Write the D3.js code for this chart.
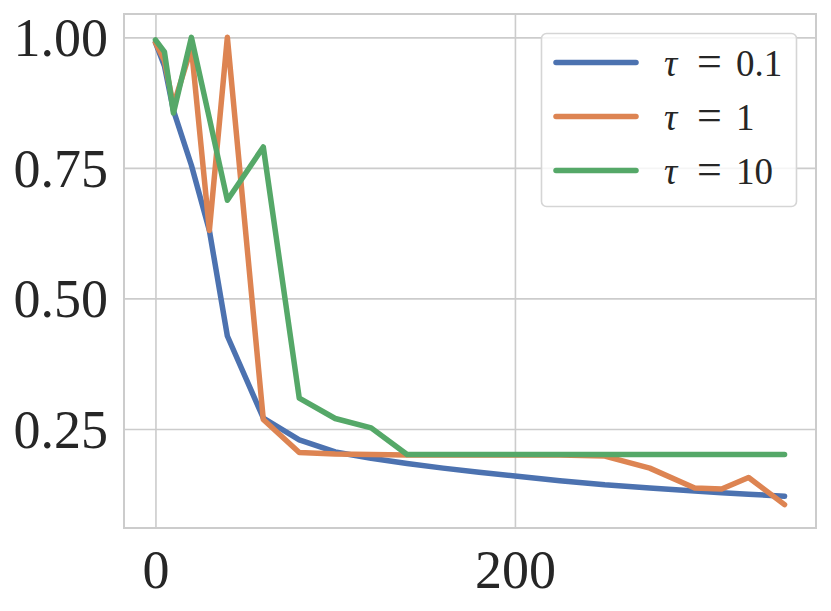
<!DOCTYPE html>
<html>
<head>
<meta charset="utf-8">
<script src="https://cdn.jsdelivr.net/npm/d3@7/dist/d3.min.js"></script>
<style>
  html, body { margin: 0; padding: 0; background: #ffffff; }
  svg { display: block; }
  text { font-family: "Liberation Serif", "DejaVu Serif", serif; fill: #262626; }
</style>
</head>
<body>
<svg id="chart" width="831" height="611"></svg>
<script>
// ---- data ----
const steps = [0, 5, 10, 20, 30, 40, 60, 80, 100, 120, 140, 160, 180, 200, 225, 250, 275, 300, 315, 330, 350];
const tau01 = [0.990, 0.945, 0.860, 0.755, 0.630, 0.428, 0.271, 0.229, 0.206, 0.194, 0.184, 0.175, 0.167, 0.160, 0.151, 0.143, 0.137, 0.131, 0.128, 0.125, 0.121];
const tau1  = [0.990, 0.955, 0.870, 0.980, 0.630, 1.000, 0.268, 0.205, 0.202, 0.201, 0.200, 0.200, 0.200, 0.200, 0.200, 0.198, 0.175, 0.137, 0.135, 0.157, 0.105];
const tau10 = [0.995, 0.972, 0.855, 1.000, 0.845, 0.688, 0.790, 0.309, 0.270, 0.252, 0.201, 0.201, 0.201, 0.201, 0.201, 0.201, 0.201, 0.201, 0.201, 0.201, 0.201];
const seriesNames = ["0.1", "1", "10"];
const seriesColors = ["#4c72b0", "#dd8452", "#55a868"];
const xTicks = [0, 200];
const yTicks = [0.25, 0.50, 0.75, 1.00];

const seriesValues = [tau01, tau1, tau10];

// ---- layout ----
const svg = d3.select("#chart");
const L = 124, R = 816, T = 14, B = 528;

const x = d3.scaleLinear().domain([-17.5, 367.5]).range([L, R]);
const y = d3.scaleLinear().domain([0.0603, 1.0447]).range([B, T]);

// grid + tick labels via axes
const yAxis = svg.append("g")
  .attr("transform", `translate(${L},0)`)
  .call(d3.axisLeft(y).tickValues(yTicks).tickFormat(d3.format(".2f")).tickSize(-(R - L)).tickPadding(16));
yAxis.select(".domain").remove();
yAxis.selectAll(".tick line").attr("stroke", "#cccccc").attr("stroke-width", 1.6);
yAxis.selectAll(".tick text")
  .attr("font-size", 54).attr("fill", "#262626")
  .attr("font-family", "Liberation Serif, DejaVu Serif, serif")
  .attr("dy", "0.34em");

const xAxis = svg.append("g")
  .attr("transform", `translate(0,${B})`)
  .call(d3.axisBottom(x).tickValues(xTicks).tickFormat(d3.format("d")).tickSize(-(B - T)).tickPadding(22));
xAxis.select(".domain").remove();
xAxis.selectAll(".tick line").attr("stroke", "#cccccc").attr("stroke-width", 1.6);
xAxis.selectAll(".tick text")
  .attr("font-size", 54).attr("fill", "#262626")
  .attr("font-family", "Liberation Serif, DejaVu Serif, serif")
  .attr("dy", "0.71em");

// lines
const line = d3.line()
  .x((d, i) => x(steps[i]))
  .y(d => y(d));

svg.append("g").selectAll("path")
  .data(seriesValues)
  .join("path")
  .attr("d", d => line(d))
  .attr("fill", "none")
  .attr("stroke", (d, i) => seriesColors[i])
  .attr("stroke-width", 5.5)
  .attr("stroke-linecap", "round")
  .attr("stroke-linejoin", "round");

// spines
svg.append("rect")
  .attr("x", L).attr("y", T).attr("width", R - L).attr("height", B - T)
  .attr("fill", "none").attr("stroke", "#cccccc").attr("stroke-width", 2);

// legend
const lg = svg.append("g");
lg.append("rect")
  .attr("x", 541.5).attr("y", 33.5).attr("width", 255).attr("height", 173)
  .attr("rx", 5).attr("ry", 5)
  .attr("fill", "#ffffff").attr("fill-opacity", 0.8)
  .attr("stroke", "#d5d5d5").attr("stroke-width", 1.6);

const rowY = [62.5, 116.5, 170.5];
seriesNames.forEach((name, i) => {
  lg.append("line")
    .attr("x1", 556).attr("x2", 636)
    .attr("y1", rowY[i]).attr("y2", rowY[i])
    .attr("stroke", seriesColors[i]).attr("stroke-width", 5.5)
    .attr("stroke-linecap", "round");
  const t = lg.append("text")
    .attr("y", rowY[i] + 13)
    .attr("font-size", 37);
  t.append("tspan").attr("x", 664).attr("font-style", "italic").text("τ");
  t.append("tspan").attr("x", 697).attr("font-size", 44).text("=");
  t.append("tspan").attr("x", 736).text(name);
});
</script>
</body>
</html>
